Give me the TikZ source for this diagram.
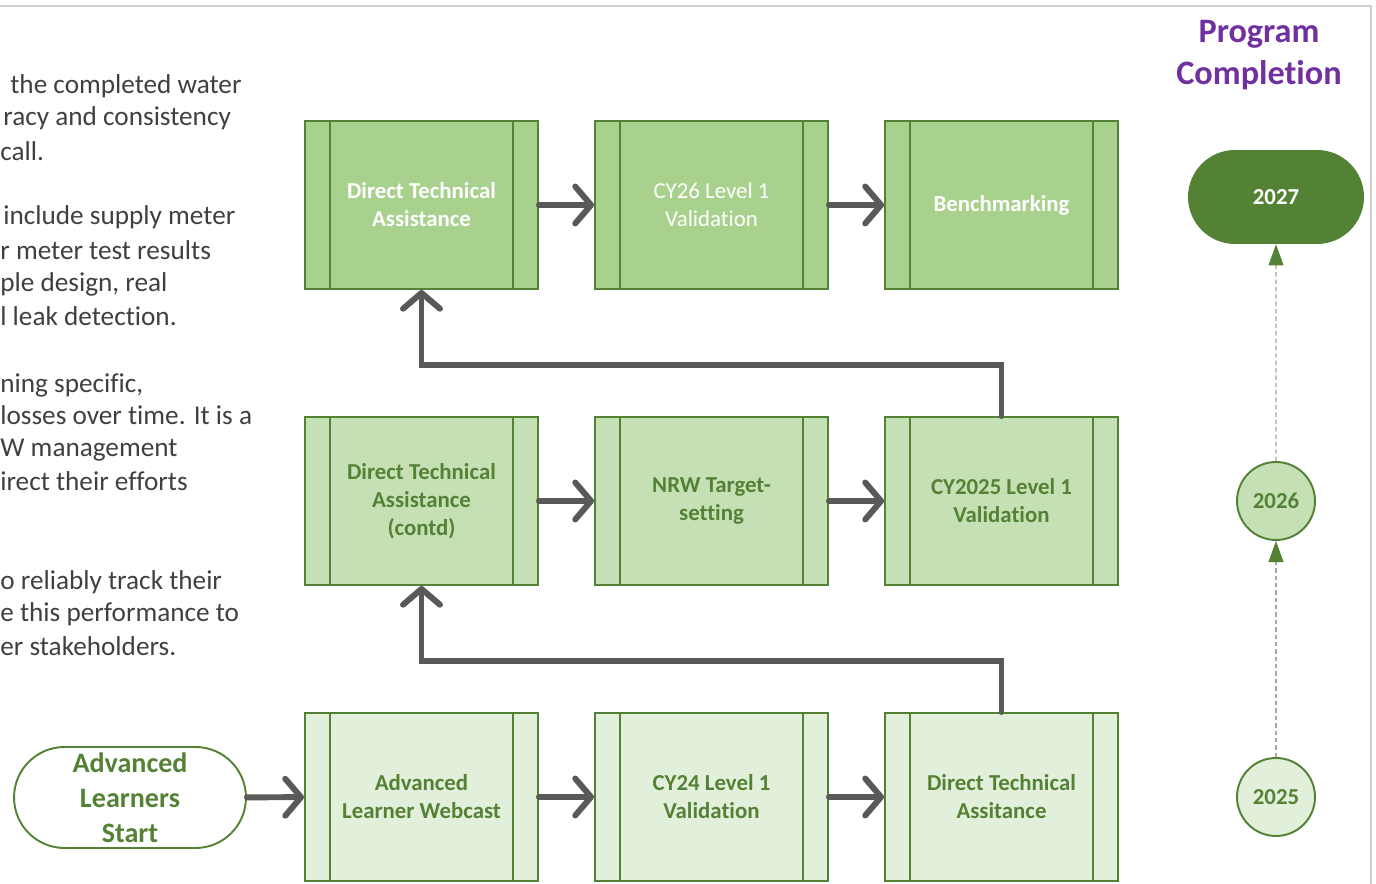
\documentclass[tikz,border=0pt]{standalone}
\usepackage{fontspec}
\setmainfont{Carlito}[Ligatures=NoCommon]
\usetikzlibrary{arrows.meta,shapes.misc}
\definecolor{grn}{HTML}{548235}
\definecolor{fillA}{HTML}{A9D18E}
\definecolor{fillB}{HTML}{C5E0B4}
\definecolor{fillC}{HTML}{E2EFDA}
\definecolor{flowgray}{HTML}{595959}
\definecolor{txtgray}{HTML}{404040}
\definecolor{dashgray}{HTML}{A6A6A6}
\definecolor{purp}{HTML}{7030A0}
\tikzset{proc/.style={draw=grn,line width=1.1pt,minimum width=4.66cm,minimum height=3.36cm,align=center,inner sep=0pt,font=\fontsize{13}{15.9}\selectfont\bfseries}}
\tikzset{flow/.style={draw=flowgray,line width=3.4pt,line cap=round,-{Straight Barb[length=9pt,width=21pt,round]}}}
\tikzset{year/.style={circle,draw=grn,line width=1.1pt,minimum size=1.56cm,inner sep=0pt,text=grn,font=\fontsize{13}{15}\selectfont\bfseries}}
\tikzset{tline/.style={draw=dashgray,line width=0.6pt,dash pattern=on 2.5pt off 1.7pt,-{Triangle[color=grn,length=12pt,width=8.5pt]}}}

\begin{document}
\begin{tikzpicture}[x=0.02cm,y=-0.02cm]
        \useasboundingbox (0,0) rectangle (1376,884);
        \clip (0,0) rectangle (1376,884);
        % frame of the slide
        \draw[gray!35,line width=0.8pt] (0,6) -- (1371,6) -- (1371,884);
        % cut-off text on the left
        \foreach \xx/\yy/\txt in {10/94/{the completed water},3/126/{racy and consistency},0/161/{call.},
                3/225/{include supply meter},0/260/{r meter test results},0/292/{ple design, real},0/326/{l leak detection.},
                0/393/{ning specific,},0/425/{losses over time. It is a},0/457/{W management},0/491/{irect their efforts},
                0/590/{o reliably track their},0/622/{e this performance to},0/656/{er stakeholders.}}
            \node[anchor=base west,inner sep=0pt,text=txtgray,font=\fontsize{15.5}{18}\selectfont] at (\xx,\yy) {\txt};

        % draw the process boxes
        \node[proc,fill=fillA,text=white] (dta) at (421.5,205) {Direct Technical\\Assistance};
        \node[proc,fill=fillA,text=white,font=\fontsize{13}{15.9}\selectfont] (cy26) at (711.5,205) {CY26 Level 1\\Validation};
        \node[proc,fill=fillA,text=white] (bench) at (1001.5,205) {Benchmarking};
        \node[proc,fill=fillB,text=grn] (dtac) at (421.5,501) {Direct Technical\\Assistance\\(contd)};
        \node[proc,fill=fillB,text=grn] (nrw) at (711.5,501) {NRW Target-\\setting};
        \node[proc,fill=fillB,text=grn] (cy25) at (1001.5,501) {CY2025 Level 1\\Validation};
        \node[proc,fill=fillC,text=grn] (webcast) at (421.5,797) {Advanced\\Learner Webcast};
        \node[proc,fill=fillC,text=grn] (cy24) at (711.5,797) {CY24 Level 1\\Validation};
        \node[proc,fill=fillC,text=grn] (dtb) at (1001.5,797) {Direct Technical\\Assitance};
        \foreach \n in {dta,cy26,bench,dtac,nrw,cy25,webcast,cy24,dtb}{
            \draw[grn,line width=1.1pt] ([xshift=0.52cm]\n.north west) -- ([xshift=0.52cm]\n.south west);
            \draw[grn,line width=1.1pt] ([xshift=-0.52cm]\n.north east) -- ([xshift=-0.52cm]\n.south east);
        }

        % start terminal
        \node[rounded rectangle,draw=grn,line width=1.1pt,minimum width=4.64cm,minimum height=2.02cm,inner sep=0pt,align=center,
              text=grn,font=\fontsize{16}{19.8}\selectfont\bfseries] (start) at (130,797.5) {Advanced\\Learners\\Start};

        % the flow
        \draw[flow] (start) -- (webcast);
        \draw[flow] (webcast) -- (cy24);
        \draw[flow] (cy24) -- (dtb);
        \draw[flow] (dtb.north) -- ++(0,-51) -| (dtac.south);
        \draw[flow] (dtac) -- (nrw);
        \draw[flow] (nrw) -- (cy25);
        \draw[flow] (cy25.north) -- ++(0,-51) -| (dta.south);
        \draw[flow] (dta) -- (cy26);
        \draw[flow] (cy26) -- (bench);

        % timeline on the right
        \node[text=purp,align=center,font=\fontsize{19.5}{23.8}\selectfont\bfseries] (prog) at (1259,55) {Program\\Completion};
        \node[rounded rectangle,fill=grn,minimum width=3.52cm,minimum height=1.88cm,inner sep=0pt,
              text=white,font=\fontsize{13}{15}\selectfont\bfseries] (y27) at (1276,197) {2027};
        \node[year,fill=fillB] (y26) at (1276,501) {2026};
        \node[year,fill=fillC] (y25) at (1276,797) {2025};
        \draw[tline] (y25) -- (y26);
        \draw[tline] (y26) -- (y27);
    \end{tikzpicture}
\end{document}
